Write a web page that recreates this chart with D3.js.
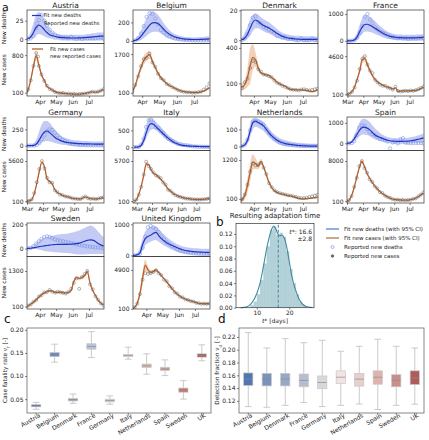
<!DOCTYPE html>
<html><head><meta charset="utf-8">
<script src="https://cdn.jsdelivr.net/npm/d3@7/dist/d3.min.js"></script>
<style>
body{margin:0;background:#fff;}
svg{display:block;font-family:"DejaVu Sans",sans-serif;}
</style></head><body>
<svg id="fig" width="429" height="440"></svg>
<script>
const _ = null;
// ---------------- DATA ----------------
const countries = ["Austria","Belgium","Denmark","France","Germany","Italy","Netherlands","Spain","Sweden","United Kingdom"];
const shortNames = ["Austria","Belgium","Denmark","France","Germany","Italy","Netherlands","Spain","Sweden","UK"];
const gridDates = ["2020-02-24","2020-02-29","2020-03-05","2020-03-10","2020-03-15","2020-03-20","2020-03-25","2020-03-30","2020-04-04","2020-04-09","2020-04-14","2020-04-19","2020-04-24","2020-04-29","2020-05-04","2020-05-09","2020-05-14","2020-05-19","2020-05-24","2020-05-29","2020-06-03","2020-06-08","2020-06-13","2020-06-18","2020-06-23","2020-06-28","2020-07-03","2020-07-08","2020-07-13","2020-07-18","2020-07-23","2020-07-28"];
const startDates = ["2020-03-08","2020-03-16","2020-03-08","2020-02-29","2020-03-01","2020-02-22","2020-03-08","2020-03-01","2020-03-08","2020-03-07"];
const endDate = "2020-07-29";
const monthTicks = ["2020-03-01","2020-04-01","2020-05-01","2020-06-01","2020-07-01"];
const deathsTicks = [25,200,20,1000,250,500,100,1000,200,1000];
const casesTicks = [800,1700,400,4600,5600,5700,1200,8000,1300,4900];
const deathsLim = [[-6,39.6],[-28,334],[-2.2,20.2],[-97,1150],[-75,440],[-98,896],[-23,172],[-352,1286],[-66,211],[-33,1043]];
const casesLim = [[39,1017],[-36,2142],[-7,437],[-100,6090],[-144,7036],[-148,7160],[-19,1467],[-250,10060],[18,1790],[80,6560]];

const deathsFit = [
 [_,_,0,0.5,3,9,16,19,17,13,9,6,4.5,3.5,2.8,2.3,2,1.8,1.6,1.5,1.5,1.5,1.6,1.8,2,2.3,2.6,3,3.3,3.7,4,4.3],
 [_,_,_,_,1,5,20,50,90,130,170,195,198,185,160,125,95,72,55,42,33,26,21,18,16,15,15,15,16,18,20,22],
 [_,_,0,0.3,1.5,4,8,12,13.5,12.5,11,9.8,9,8.2,7,5.8,4.6,3.5,2.6,2,1.5,1.2,1,0.8,0.7,0.6,0.5,0.5,0.5,0.5,0.5,0.5],
 [_,0,0,5,40,150,350,520,610,620,580,530,470,410,350,290,240,200,170,150,135,125,120,115,110,110,110,110,115,120,125,130],
 [_,0,0,1,5,30,90,160,210,225,200,165,130,100,80,65,55,48,42,38,35,32,30,28,27,26,25,25,24,24,24,24],
 [0,0,10,60,200,420,620,700,680,610,540,470,400,330,270,215,165,125,95,70,55,45,38,32,28,25,22,20,18,17,16,15],
 [_,_,0,2,10,35,90,140,148,140,132,120,100,80,62,48,36,28,22,17,14,12,10,8,6,5,4,3.5,3,3,3,3],
 [_,0,5,60,220,420,620,760,790,740,670,540,420,340,290,240,190,150,125,110,100,95,95,95,100,110,125,145,170,200,230,265],
 [_,_,0,0.5,2,6,10,15,19,22,25,28,31,33,34,34,34,34,35,36,38,40,45,52,60,67,72,70,58,42,30,22],
 [_,_,0,5,20,80,350,540,610,650,710,740,640,540,470,410,360,320,285,250,210,185,160,145,135,125,118,112,108,104,100,98]
];
const deathsReported = [
 [_,_,0,0,1,4,15,26,33,25,18,13,9,6,4,3,2,2,1,3,1,0,1,0,1,1,1,1,1,2,2,1],
 [_,_,_,_,1,5,30,80,160,260,300,290,240,180,120,90,60,45,35,25,20,15,12,10,8,6,5,5,4,4,5,6],
 [_,_,0,0,1,4,10,15,16,12,11,9,8,7,6,5,3,3,2,2,1,1,1,0,0,1,0,0,0,1,0,0],
 [_,0,2,10,30,120,300,550,900,1000,800,650,500,420,350,300,260,200,160,140,120,100,110,90,100,80,90,100,90,110,120,100],
 [_,0,0,0,2,10,40,100,160,220,250,240,200,160,120,90,70,50,30,25,20,15,10,8,6,5,5,4,4,4,5,5],
 [0,2,10,80,250,600,800,820,720,600,570,480,420,320,250,220,180,150,100,90,70,60,50,40,25,20,15,15,12,10,10,10],
 [_,_,0,2,12,40,95,145,150,145,135,125,100,80,60,45,35,25,20,15,12,10,8,6,5,4,3,3,2,2,2,2],
 [_,0,1,10,100,400,750,880,850,700,550,450,400,300,220,200,150,90,-250,40,100,0,200,250,30,20,15,10,15,20,10,5],
 [_,_,0,1,5,20,40,60,80,95,100,95,85,75,70,65,60,55,50,45,40,35,30,25,22,18,15,12,10,8,6,5],
 [_,_,0,2,10,50,250,600,900,950,900,850,750,620,520,420,360,300,250,200,160,130,110,90,80,70,60,55,50,45,40,40]
];
const deathsLo = [
 [_,_,0,0,0,2,5,7,6,4,2,1,0,-1,-1,-2,-2,-2,-2,-2,-2,-2,-2,-2,-2,-2,-2,-2,-2,-2,-2,-2],
 [_,_,_,_,0,0,0,10,30,55,80,95,100,95,80,60,40,28,18,10,5,2,0,-3,-5,-5,-5,-5,-5,-5,-5,-5],
 [_,_,0,0,0,1,3,6,8,8,7,6,5,4.5,3.5,2.5,1.5,0.8,0.3,0,-0.3,-0.5,-0.7,-0.8,-0.9,-1,-1,-1,-1,-1,-1,-1],
 [_,0,0,0,0,40,150,270,340,350,330,300,260,220,180,140,110,80,60,45,35,25,20,15,10,10,10,10,10,10,10,10],
 [_,0,0,0,0,5,20,45,65,70,65,55,40,30,20,12,8,5,0,-5,-10,-12,-15,-15,-15,-15,-15,-15,-15,-15,-15,-15],
 [0,0,0,20,100,250,420,520,540,500,440,380,310,250,190,140,100,70,45,30,20,12,8,5,3,2,0,0,-5,-5,-5,-5],
 [_,_,0,0,2,15,55,100,115,110,100,90,72,55,40,28,18,10,5,2,0,-2,-3,-4,-5,-5,-5,-5,-5,-5,-5,-5],
 [_,0,0,10,80,200,330,420,430,400,340,260,200,150,110,80,50,20,0,-20,-40,-50,-50,-40,-30,-20,-10,0,10,20,30,40],
 [_,_,0,0,0,0,-5,-10,-15,-20,-22,-25,-28,-30,-32,-34,-36,-38,-40,-42,-45,-48,-50,-50,-50,-48,-45,-45,-45,-45,-45,-45],
 [_,_,0,0,5,30,150,330,400,440,480,500,440,380,320,270,220,180,145,115,90,70,55,45,38,32,28,25,22,20,18,16]
];
const deathsHi = [
 [_,_,1,3,10,22,33,37,34,28,20,14,10,8,7,6,6,6,6,6,6,6,6,6,6,7,7,8,8,9,9,9],
 [_,_,_,_,3,15,50,110,180,250,300,320,310,280,240,190,150,115,90,72,60,52,46,42,40,38,38,40,42,45,48,50],
 [_,_,0.5,2,5,9,14,17,18,17,15.5,14,13,12,10.5,9,7.5,6,5,4.3,3.8,3.4,3.2,3,2.9,2.8,2.7,2.6,2.6,2.6,2.5,2.5],
 [_,10,20,40,120,320,600,850,950,950,900,820,730,640,550,470,400,340,300,270,250,240,235,230,225,225,225,225,230,235,240,245],
 [_,2,5,15,40,110,230,330,380,380,350,300,250,200,165,140,120,105,95,88,82,78,75,72,70,68,66,65,64,63,62,62],
 [0,5,40,150,380,650,830,850,820,750,680,600,520,440,370,300,240,190,150,120,100,85,75,68,62,58,55,52,50,48,46,45],
 [_,_,2,8,25,60,130,165,168,160,155,145,125,105,85,70,58,48,42,36,32,29,26,24,22,20,19,18,17,16,16,16],
 [_,5,20,150,400,700,1000,1180,1200,1150,1050,900,750,620,520,430,360,310,280,260,250,245,245,250,260,275,295,320,350,390,430,480],
 [_,_,1,3,10,25,45,65,80,90,95,100,105,110,115,118,120,122,125,130,135,142,150,160,170,180,190,185,165,140,115,95],
 [_,_,5,25,90,250,550,780,870,920,940,930,850,760,670,590,520,460,410,360,320,290,270,255,245,235,228,222,218,215,212,210]
];
const casesFit = [
 [_,_,60,150,340,590,790,620,430,330,225,180,150,120,100,95,90,85,80,78,75,75,75,80,85,95,110,115,110,115,135,160],
 [_,_,_,_,150,400,800,1150,1450,1600,1680,1400,1150,900,720,600,480,400,340,280,220,180,150,130,120,110,110,115,130,170,230,300],
 [_,_,80,70,90,150,250,320,300,230,190,178,172,165,150,130,110,95,85,75,60,50,47,45,45,45,42,40,35,30,35,45],
 [_,100,200,450,1000,1900,2900,4200,4300,3600,2900,2300,1850,1550,1350,1180,1050,950,850,720,850,450,480,500,500,500,520,530,550,650,800,950],
 [_,100,150,300,1100,2500,4200,5400,4800,3200,2800,2500,1700,1300,1100,900,800,700,600,500,450,420,400,550,700,550,450,420,400,450,520,600],
 [100,300,1100,2200,3700,5300,5200,4500,4000,3800,3500,3150,2770,2300,1800,1500,1220,1000,850,720,600,520,460,430,380,350,340,340,350,380,420,480],
 [_,_,30,80,200,480,850,1140,1100,1030,1150,1000,780,560,420,330,280,250,230,210,190,180,160,140,115,100,100,105,110,120,130,140],
 [_,100,300,1200,2800,4800,6700,7900,6900,5600,4600,3800,3100,2500,2000,1600,1250,950,700,520,430,380,340,310,300,310,400,520,700,1000,1350,1700],
 [_,_,80,120,180,250,330,420,500,560,600,640,620,580,580,590,570,560,580,650,950,1080,1050,1080,1150,1280,900,650,480,320,220,150],
 [_,_,100,300,800,2000,3900,5500,4900,4600,4700,4900,4600,4200,3800,3440,3000,2600,2200,1900,1650,1450,1300,1180,1080,980,880,780,740,730,730,740]
];
const casesReported = [
 [_,_,55,160,330,600,840,600,440,320,230,170,150,115,100,90,95,80,85,75,80,70,75,80,85,90,105,120,110,120,140,165],
 [_,_,_,_,140,420,780,1200,1500,1550,1720,1350,1180,880,700,620,460,410,330,270,210,170,140,120,115,100,105,120,150,230,330,480],
 [_,_,85,60,110,140,230,290,280,220,200,175,170,160,150,125,105,95,80,70,60,50,45,45,40,48,50,45,40,45,50,55],
 [_,50,180,400,900,1700,3100,4300,4600,3600,2900,2600,1800,1500,1250,1100,1100,900,800,650,1000,500,420,480,520,480,550,500,600,700,850,1000],
 [_,60,150,350,1200,2700,4500,5600,4600,3300,2700,2600,1600,1350,1000,950,750,700,620,480,460,400,380,600,750,500,430,450,380,470,550,620],
 [80,350,1000,2100,3800,5600,5000,4600,4100,3700,3500,3300,2700,2400,1700,1550,1200,950,800,700,600,500,450,420,380,330,350,320,360,380,430,500],
 [_,_,20,90,220,500,870,1100,1050,1050,1120,980,800,540,430,340,290,260,240,220,200,190,170,150,130,120,120,130,150,170,190,210],
 [_,80,320,1100,2900,4700,7000,8000,6600,5700,4400,3900,3000,2600,1900,1700,1200,900,750,500,380,420,300,350,280,330,380,560,650,1050,1400,1800],
 [_,_,70,130,170,260,320,440,480,580,590,660,600,570,600,580,560,540,600,700,900,1050,700,1100,1200,1300,850,680,450,330,210,140],
 [_,_,100,280,750,1900,3700,4500,4400,4500,4650,4850,4500,4250,3700,3500,2900,2650,2150,1950,1600,1500,1250,1200,1050,1000,850,800,720,750,720,760]
];
const casesCI = [
 [_,_,10,20,40,60,80,50,30,20,15,12,10,10,10,10,10,10,10,10,10,10,10,10,10,10,10,10,10,10,10,12],
 [_,_,_,_,50,80,120,150,180,180,160,120,100,80,60,50,40,30,25,20,20,20,20,20,20,20,20,20,25,30,40,50],
 [_,_,30,30,40,80,150,110,60,30,15,12,10,10,10,10,10,8,8,8,8,8,8,8,8,8,8,8,8,8,8,8],
 [_,50,60,100,150,250,350,400,350,300,250,200,150,120,100,100,100,100,100,100,100,100,100,100,100,100,100,100,100,100,100,100],
 [_,50,60,100,150,200,250,250,200,150,120,100,80,80,60,60,60,60,60,60,60,60,60,60,60,60,60,60,60,60,60,60],
 [30,60,100,150,200,250,200,150,120,100,100,100,80,80,60,60,60,50,50,50,50,50,50,50,50,50,50,50,50,50,50,50],
 [_,_,20,60,120,200,260,220,150,100,80,60,50,40,30,30,25,25,25,25,25,25,25,25,25,25,25,25,25,25,25,25],
 [_,50,80,150,250,350,400,400,300,250,200,150,120,100,80,80,80,80,80,80,80,80,80,80,80,80,80,80,100,120,150,150],
 [_,_,20,20,30,30,40,40,40,40,40,40,40,40,40,40,40,40,40,50,60,60,60,60,60,80,60,40,30,30,20,20],
 [_,_,30,80,200,500,800,700,400,250,200,200,150,150,120,120,100,100,100,100,80,80,80,80,80,80,80,80,80,80,80,80]
];

// panel b
const kdeDays = [5,6,7,8,9,10,11,12,13,14,14.6,15.2,15.8,16.4,17,17.6,18.2,18.8,19.4,20,20.7,21.5,22,23,24,25,26,27];
const kdeDensity = [0,0.0005,0.0016,0.005,0.012,0.023,0.040,0.066,0.095,0.118,0.128,0.133,0.129,0.121,0.117,0.118,0.116,0.108,0.093,0.075,0.053,0.036,0.028,0.014,0.006,0.0025,0.001,0.0003];
const histBinStart = [8,9,10,11,12,13,14,15,16,17,18,19,20,21,22,23,24];
const histDensity = [0.004,0.010,0.022,0.045,0.072,0.100,0.126,0.132,0.118,0.122,0.115,0.092,0.063,0.040,0.022,0.010,0.004];
const tStarMean = 16.6, tStarSd = 2.8;
const bYTicks = [0,0.02,0.04,0.06,0.08,0.10,0.12];
const bXTicks = [10,20];

// panel c (case fatality rate)
const cfrLow  = [0.028,0.130,0.041,0.140,0.039,0.1365,0.104,0.101,0.050,0.133];
const cfrQ1   = [0.0335,0.142,0.046,0.158,0.044,0.142,0.1185,0.112,0.065,0.141];
const cfrMed  = [0.0355,0.146,0.049,0.164,0.047,0.1445,0.122,0.115,0.0695,0.1445];
const cfrQ3   = [0.038,0.151,0.0515,0.170,0.050,0.147,0.126,0.119,0.074,0.148];
const cfrHigh = [0.043,0.169,0.061,0.196,0.057,0.1625,0.148,0.135,0.090,0.1675];
const cfrTicks = [0.05,0.10,0.15,0.20];

// panel d (detection fraction)
const detLow  = [0.111,0.110,0.113,0.1174,0.111,0.113,0.115,0.1065,0.113,0.1148];
const detQ1   = [0.144,0.1434,0.1434,0.142,0.139,0.147,0.143,0.146,0.142,0.1455];
const detMed  = [0.1539,0.154,0.154,0.152,0.1487,0.157,0.154,0.157,0.152,0.156];
const detQ3   = [0.1637,0.163,0.163,0.162,0.159,0.167,0.163,0.167,0.161,0.167];
const detHigh = [0.2268,0.2028,0.2174,0.211,0.2148,0.1976,0.2054,0.2164,0.2054,0.2028];
const detTicks = [0.12,0.14,0.16,0.18,0.20,0.22];

// ---------------- STYLE / LAYOUT ----------------
const FONT = "DejaVu Sans";
const COL = {dLine:"#1f35c6", dBand:"#b4bef1", dPt:"#7f93e4", cLine:"#b6612a", cBand:"#f0c9ae", cPt:"#666", frame:"#333", text:"#222"};
const palC = ["#4a6ea8","#6a8bc0","#93a5c3","#b8c3d8","#cdcfd5","#e7d1cd","#dbb8b0","#d1a29a","#c5786f","#b14c49"];
const palD = ["#5177b2","#7a92bc","#97a8c4","#b5bece","#d7d8dc","#f3e4e2","#e7cfcb","#deb3ad","#cb8e8b","#b05b5b"];
const W = 77, HD = 33.5, HC = 52.5;
const colLeft = [27,133,241,347], rowTop = [10,117,223];

const svg = d3.select("#fig");
const defs = svg.append("defs");
const parse = d3.timeParse("%Y-%m-%d");
const gDates = gridDates.map(parse);
const idx = d3.range(gridDates.length);

function styleAxis(sel, fs){
  sel.select(".domain").remove();
  sel.selectAll(".tick line").attr("stroke", COL.frame).attr("stroke-width", 0.6);
  sel.selectAll(".tick text").attr("font-size", fs||6).attr("fill", COL.text).attr("font-family", FONT);
}
function frame(x, y, w, h, color){
  svg.append("rect").attr("x",x).attr("y",y).attr("width",w).attr("height",h)
    .attr("fill","none").attr("stroke",color||COL.frame).attr("stroke-width",0.7);
}

// ---------------- PANEL a ----------------
countries.forEach((name, i) => {
  const col = i % 4, row = Math.floor(i / 4);
  const x0 = colLeft[col], y0 = rowTop[row];
  const x = d3.scaleTime().domain([parse(startDates[i]), parse(endDate)]).range([x0, x0 + W]);
  const yd = d3.scaleLinear().domain(deathsLim[i]).range([y0 + HD, y0]);
  const yc = d3.scaleLinear().domain(casesLim[i]).range([y0 + HD + HC, y0 + HD]);

  defs.append("clipPath").attr("id","cd"+i).append("rect").attr("x",x0).attr("y",y0).attr("width",W).attr("height",HD);
  defs.append("clipPath").attr("id","cc"+i).append("rect").attr("x",x0).attr("y",y0+HD).attr("width",W).attr("height",HC);

  // deaths
  const gd = svg.append("g").attr("clip-path","url(#cd"+i+")");
  const dArea = d3.area().defined(j => deathsLo[i][j] != null)
    .x(j => x(gDates[j])).y0(j => yd(deathsLo[i][j])).y1(j => yd(deathsHi[i][j])).curve(d3.curveMonotoneX);
  gd.append("path").datum(idx).attr("d", dArea).attr("fill", COL.dBand).attr("opacity", 0.8);
  gd.selectAll("circle").data(idx.filter(j => deathsReported[i][j] != null)).join("circle")
    .attr("cx", j => x(gDates[j])).attr("cy", j => yd(deathsReported[i][j])).attr("r", 1.7)
    .attr("fill","none").attr("stroke", COL.dPt).attr("stroke-width", 0.6);
  const dLine = d3.line().defined(j => deathsFit[i][j] != null)
    .x(j => x(gDates[j])).y(j => yd(deathsFit[i][j])).curve(d3.curveMonotoneX);
  gd.append("path").datum(idx).attr("d", dLine).attr("fill","none").attr("stroke", COL.dLine).attr("stroke-width", 1.2);

  // cases
  const gc = svg.append("g").attr("clip-path","url(#cc"+i+")");
  const cArea = d3.area().defined(j => casesFit[i][j] != null)
    .x(j => x(gDates[j])).y0(j => yc(casesFit[i][j] - casesCI[i][j])).y1(j => yc(casesFit[i][j] + casesCI[i][j])).curve(d3.curveMonotoneX);
  gc.append("path").datum(idx).attr("d", cArea).attr("fill", COL.cBand).attr("opacity", 0.85);
  const cLine = d3.line().defined(j => casesFit[i][j] != null)
    .x(j => x(gDates[j])).y(j => yc(casesFit[i][j])).curve(d3.curveMonotoneX);
  gc.append("path").datum(idx).attr("d", cLine).attr("fill","none").attr("stroke", COL.cLine).attr("stroke-width", 1.3);
  gc.selectAll("circle").data(idx.filter(j => casesReported[i][j] != null)).join("circle")
    .attr("cx", j => x(gDates[j])).attr("cy", j => yc(casesReported[i][j])).attr("r", 1.5)
    .attr("fill","none").attr("stroke", COL.cPt).attr("stroke-width", 0.5);

  // frames
  frame(x0, y0, W, HD);
  frame(x0, y0 + HD, W, HC);

  // axes
  svg.append("g").attr("transform","translate("+x0+",0)")
    .call(d3.axisLeft(yd).tickValues([0, deathsTicks[i]]).tickSize(2).tickPadding(1.5).tickFormat(d3.format("d")))
    .call(s => styleAxis(s, 6));
  svg.append("g").attr("transform","translate("+x0+",0)")
    .call(d3.axisLeft(yc).tickValues([100, casesTicks[i]]).tickSize(2).tickPadding(1.5).tickFormat(d3.format("d")))
    .call(s => styleAxis(s, 6));
  const mt = monthTicks.map(parse).filter(d => d >= x.domain()[0] && d <= x.domain()[1]);
  svg.append("g").attr("transform","translate(0,"+(y0+HD+HC)+")")
    .call(d3.axisBottom(x).tickValues(mt).tickSize(2).tickPadding(1.5).tickFormat(d3.timeFormat("%b")))
    .call(s => styleAxis(s, 6));

  // title
  svg.append("text").attr("x", x0 + W/2).attr("y", y0 - 2.5).attr("text-anchor","middle")
    .attr("font-size", 7.5).attr("fill", COL.text).text(name);

  if (col === 0) {
    svg.append("text").attr("transform","translate(6,"+(y0+HD/2)+") rotate(-90)").attr("text-anchor","middle")
      .attr("font-size",5.8).attr("fill",COL.text).text("New deaths");
    svg.append("text").attr("transform","translate(6,"+(y0+HD+HC/2)+") rotate(-90)").attr("text-anchor","middle")
      .attr("font-size",5.8).attr("fill",COL.text).text("New cases");
  }
  if (i === 0) {
    const lg = svg.append("g").attr("font-size",5.2).attr("fill",COL.text);
    lg.append("line").attr("x1",32).attr("x2",41).attr("y1",y0+5.5).attr("y2",y0+5.5).attr("stroke",COL.dLine).attr("stroke-width",1.2);
    lg.append("text").attr("x",43.5).attr("y",y0+7.3).text("Fit new deaths");
    lg.append("circle").attr("cx",37).attr("cy",y0+13.5).attr("r",1.7).attr("fill","none").attr("stroke",COL.dPt).attr("stroke-width",0.6);
    lg.append("text").attr("x",44).attr("y",y0+15.3).text("Reported new deaths");
    lg.append("line").attr("x1",32).attr("x2",43).attr("y1",y0+HD+5.5).attr("y2",y0+HD+5.5).attr("stroke",COL.cLine).attr("stroke-width",1.3);
    lg.append("text").attr("x",50).attr("y",y0+HD+7.3).text("Fit new cases");
    lg.append("circle").attr("cx",38).attr("cy",y0+HD+13).attr("r",1.5).attr("fill","none").attr("stroke",COL.cPt).attr("stroke-width",0.5);
    lg.append("text").attr("x",50).attr("y",y0+HD+14.8).text("new reported cases");
  }
});
svg.append("text").attr("x",2).attr("y",10.5).attr("font-size",11).attr("fill","#111").text("a");

// ---------------- PANEL b ----------------
{
  const L = 236, R = 314, T = 223.5, B = 307.7;
  const x = d3.scaleLinear().domain([3.6, 27.6]).range([L, R]);
  const y = d3.scaleLinear().domain([0, 0.137]).range([B, T]);
  const teal = "#3f8a9c";
  svg.append("g").selectAll("rect").data(histBinStart).join("rect")
    .attr("x", (d) => x(d)).attr("width", (d) => x(d + 1) - x(d))
    .attr("y", (d,k) => y(histDensity[k])).attr("height", (d,k) => B - y(histDensity[k]))
    .attr("fill", teal).attr("opacity", 0.4);
  svg.append("path").datum(kdeDays.map((d,k)=>[d,kdeDensity[k]]))
    .attr("d", d3.line().x(d=>x(d[0])).y(d=>y(d[1])).curve(d3.curveCatmullRom))
    .attr("fill","none").attr("stroke",teal).attr("stroke-width",1.1);
  svg.append("line").attr("x1",x(tStarMean)).attr("x2",x(tStarMean)).attr("y1",B).attr("y2",T)
    .attr("stroke",teal).attr("stroke-width",1).attr("stroke-dasharray","3,2");
  frame(L, T, R-L, B-T);
  svg.append("g").attr("transform","translate("+L+",0)")
    .call(d3.axisLeft(y).tickValues(bYTicks).tickSize(2).tickPadding(1.5).tickFormat(d3.format(".2f")))
    .call(s => styleAxis(s, 6));
  svg.append("g").attr("transform","translate(0,"+B+")")
    .call(d3.axisBottom(x).tickValues(bXTicks).tickSize(2).tickPadding(1.5).tickFormat(d3.format("d")))
    .call(s => styleAxis(s, 6));
  const t1 = svg.append("text").attr("x",R-2).attr("y",T+10).attr("text-anchor","end").attr("font-size",6).attr("fill",COL.text);
  t1.append("tspan").attr("font-style","italic").text("t");
  t1.append("tspan").text("*: " + tStarMean.toFixed(1));
  svg.append("text").attr("x",R-2).attr("y",T+17.5).attr("text-anchor","end").attr("font-size",6).attr("fill",COL.text).text("±" + tStarSd.toFixed(1));
  const xl = svg.append("text").attr("x",(L+R)/2).attr("y",B+15).attr("text-anchor","middle").attr("font-size",6).attr("fill",COL.text);
  xl.append("tspan").attr("font-style","italic").text("t");
  xl.append("tspan").text("* [days]");
  svg.append("text").attr("x",(L+R)/2).attr("y",T-5.5).attr("text-anchor","middle").attr("font-size",7).attr("fill",COL.text).text("Resulting adaptation time");
  svg.append("text").attr("x",216).attr("y",226).attr("font-size",12).attr("fill","#111").text("b");

  // legend
  const lg = svg.append("g").attr("font-size",5.5).attr("fill",COL.text);
  const lx = 326, lt = 344, ly = [229, 238, 247, 256];
  lg.append("line").attr("x1",lx).attr("x2",lx+13).attr("y1",ly[0]).attr("y2",ly[0]).attr("stroke","#5b7fd6").attr("stroke-width",1.3);
  lg.append("line").attr("x1",lx).attr("x2",lx+13).attr("y1",ly[1]).attr("y2",ly[1]).attr("stroke","#c0906c").attr("stroke-width",1.6);
  lg.append("circle").attr("cx",lx+6.5).attr("cy",ly[2]).attr("r",1.5).attr("fill","none").attr("stroke",COL.dPt).attr("stroke-width",0.7);
  lg.append("circle").attr("cx",lx+6.5).attr("cy",ly[3]).attr("r",1.3).attr("fill","#666").attr("stroke","#444").attr("stroke-width",0.5);
  const labs = ["Fit new deaths (with 95% CI)","Fit new cases (with 95% CI)","Reported new deaths","Reported new cases"];
  labs.forEach((t,k) => lg.append("text").attr("x",lt).attr("y",ly[k]+2).text(t));
}

// ---------------- PANELS c and d ----------------
function boxPanel(opt){
  const {L,R,T,B,dom,ticks,low,q1,med,q3,high,pal,label,sub,letterX} = opt;
  const x = d3.scaleBand().domain(shortNames).range([L,R]);
  const y = d3.scaleLinear().domain(dom).range([B,T]);
  const bw = x.bandwidth()*0.5, cw = x.bandwidth()*0.36;
  const g = svg.append("g");
  shortNames.forEach((n,k) => {
    const cx = x(n) + x.bandwidth()/2;
    g.append("line").attr("x1",cx).attr("x2",cx).attr("y1",y(high[k])).attr("y2",y(q3[k])).attr("stroke","#c4c4c4").attr("stroke-width",0.9);
    g.append("line").attr("x1",cx).attr("x2",cx).attr("y1",y(q1[k])).attr("y2",y(low[k])).attr("stroke","#c4c4c4").attr("stroke-width",0.9);
    g.append("line").attr("x1",cx-cw/2).attr("x2",cx+cw/2).attr("y1",y(high[k])).attr("y2",y(high[k])).attr("stroke","#c4c4c4").attr("stroke-width",0.9);
    g.append("line").attr("x1",cx-cw/2).attr("x2",cx+cw/2).attr("y1",y(low[k])).attr("y2",y(low[k])).attr("stroke","#c4c4c4").attr("stroke-width",0.9);
    g.append("rect").attr("x",cx-bw/2).attr("width",bw).attr("y",y(q3[k])).attr("height",y(q1[k])-y(q3[k]))
      .attr("fill",pal[k]).attr("stroke","#c8c8c8").attr("stroke-width",0.7);
    g.append("line").attr("x1",cx-bw/2).attr("x2",cx+bw/2).attr("y1",y(med[k])).attr("y2",y(med[k])).attr("stroke","#8d8d8d").attr("stroke-width",0.7);
  });
  frame(L,T,R-L,B-T,"#555");
  svg.append("g").attr("transform","translate("+L+",0)")
    .call(d3.axisLeft(y).tickValues(ticks).tickSize(2).tickPadding(1.5).tickFormat(d3.format(".2f")))
    .call(s => styleAxis(s, 6));
  const xa = svg.append("g").attr("transform","translate(0,"+B+")")
    .call(d3.axisBottom(x).tickSize(2).tickPadding(1.5));
  styleAxis(xa, 6);
  xa.selectAll(".tick text").attr("text-anchor","end").attr("dy",0).attr("y",5.5).attr("x",2)
    .attr("transform","rotate(-30)");
  const yl = svg.append("text").attr("transform","translate("+(L-20.5)+","+((T+B)/2)+") rotate(-90)")
    .attr("text-anchor","middle").attr("font-size",5.8).attr("fill",COL.text);
  yl.append("tspan").text(label + " ν");
  yl.append("tspan").attr("font-size",4.2).attr("baseline-shift","sub").text(sub);
  yl.append("tspan").text(" [-]");
  svg.append("text").attr("x",letterX).attr("y",323).attr("font-size",12).attr("fill","#111").text(opt.letter);
}
boxPanel({L:27,R:211,T:328,B:413,dom:[0.02,0.204],ticks:cfrTicks,low:cfrLow,q1:cfrQ1,med:cfrMed,q3:cfrQ3,high:cfrHigh,pal:palC,label:"Case fatality rate",sub:"f",letter:"c",letterX:4});
boxPanel({L:239,R:424,T:328,B:413,dom:[0.101,0.234],ticks:detTicks,low:detLow,q1:detQ1,med:detMed,q3:detQ3,high:detHigh,pal:palD,label:"Detection fraction",sub:"d",letter:"d",letterX:218});
</script>
</body></html>
